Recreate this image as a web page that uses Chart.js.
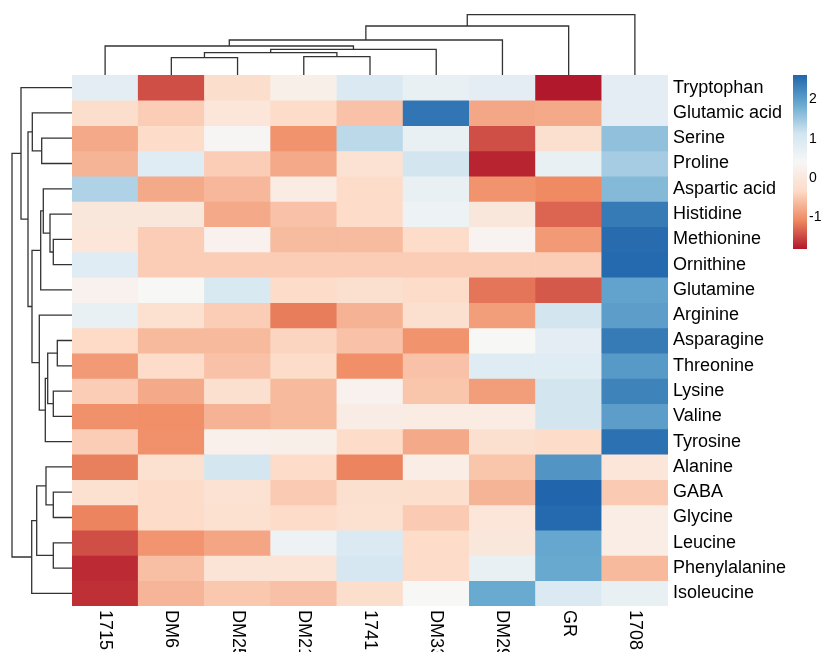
<!DOCTYPE html>
<html>
<head>
<meta charset="utf-8">
<script src="https://cdn.jsdelivr.net/npm/chart.js@4.4.1/dist/chart.umd.min.js"></script>
<style>
  body { margin: 0; background: #fff; }
  #wrap { position: relative; width: 821px; height: 652px; overflow: hidden; }
  #wrap canvas { position: absolute; left: 0; top: 0; }
</style>
</head>
<body>
<div id="wrap">
  <canvas id="heat" width="821" height="652"></canvas>
  <canvas id="topTree" width="821" height="652"></canvas>
  <canvas id="leftTree" width="821" height="652"></canvas>
  <canvas id="scale" width="821" height="652"></canvas>
</div>
<script>
// columns (samples) and rows (metabolites), in clustered order
var samples = ["1715", "DM6", "DM25", "DM21", "1741", "DM33", "DM29", "GR", "1708"];
var metabolites = ["Tryptophan", "Glutamic acid", "Serine", "Proline", "Aspartic acid",
  "Histidine", "Methionine", "Ornithine", "Glutamine", "Arginine", "Asparagine",
  "Threonine", "Lysine", "Valine", "Tyrosine", "Alanine", "GABA", "Glycine",
  "Leucine", "Phenylalanine", "Isoleucine"];

// scaled values, one row per metabolite
var values = [
  [0.80, -1.45, -0.25, 0.20, 0.95, 0.70, 0.80, -1.80, 0.80],
  [-0.25, -0.45, -0.05, -0.30, -0.55, 2.45, -0.80, -0.78, 0.80],
  [-0.78, -0.30, 0.35, -0.98, 1.30, 0.70, -1.45, -0.20, 1.60],
  [-0.68, 0.85, -0.45, -0.78, -0.15, 1.10, -1.72, 0.70, 1.45],
  [1.38, -0.78, -0.65, 0.10, -0.28, 0.70, -0.98, -1.06, 1.68],
  [0.00, 0.00, -0.78, -0.55, -0.28, 0.60, 0.00, -1.30, 2.40],
  [-0.05, -0.45, 0.25, -0.62, -0.62, -0.28, 0.30, -0.92, 2.55],
  [0.85, -0.45, -0.45, -0.45, -0.45, -0.45, -0.45, -0.45, 2.58],
  [0.25, 0.40, 1.00, -0.28, -0.20, -0.30, -1.20, -1.38, 1.95],
  [0.70, -0.18, -0.45, -1.15, -0.70, -0.20, -0.88, 1.10, 2.00],
  [-0.32, -0.63, -0.63, -0.38, -0.55, -0.98, 0.40, 0.80, 2.40],
  [-0.92, -0.30, -0.55, -0.28, -1.02, -0.55, 0.85, 0.85, 2.05],
  [-0.45, -0.78, -0.20, -0.63, 0.25, -0.52, -0.88, 1.10, 2.30],
  [-1.00, -1.02, -0.70, -0.63, 0.12, 0.10, 0.10, 1.10, 2.00],
  [-0.45, -1.00, 0.22, 0.20, -0.28, -0.78, -0.20, -0.28, 2.50],
  [-1.13, -0.18, 1.08, -0.30, -1.10, 0.15, -0.52, 2.10, -0.05],
  [-0.18, -0.28, -0.15, -0.48, -0.20, -0.23, -0.68, 2.62, -0.48],
  [-1.10, -0.30, -0.18, -0.30, -0.18, -0.48, -0.05, 2.58, 0.15],
  [-1.45, -0.97, -0.82, 0.60, 0.98, -0.30, 0.00, 1.90, 0.15],
  [-1.68, -0.58, -0.10, -0.10, 1.05, -0.30, 0.70, 1.88, -0.63],
  [-1.65, -0.67, -0.50, -0.57, -0.25, 0.40, 1.87, 0.95, 0.68]
];

// hclust style merges: negative = leaf (1-based), positive = earlier merge
var colMerge = [[-2, -3], [-4, -5], [1, 2], [3, -6], [-1, 4], [5, -7], [6, -8], [7, -9]];
var colHeight = [17.3, 18.3, 22.3, 25.7, 29, 35, 49, 60.3];
var rowMerge = [[-3, -4], [-2, 1], [-7, -8], [-6, 3], [-5, 4], [5, -9], [-11, -12],
  [-13, -14], [7, 8], [9, -15], [-10, 10], [6, 11], [2, 12], [-1, 13], [-17, -18],
  [-16, 15], [-19, -20], [16, 17], [18, -21], [14, 19]];
var rowHeight = [30.3, 39.7, 18.7, 22, 28.7, 31.3, 14.7, 18.7, 24.3, 26.7, 32.7,
  40, 44, 51, 18.7, 26, 18.7, 35.3, 40.3, 60];

var legendMin = -1.80, legendMax = 2.62;
var legendTicks = [-1, 0, 1, 2];
var palette = ["#B2182B", "#EF8A62", "#FDDBC7", "#F7F7F7", "#D1E5F0", "#67A9CF", "#2166AC"];

Chart.defaults.font.family = '"Liberation Sans", Arial, sans-serif';

function hexToRgb(h) {
  return [parseInt(h.slice(1, 3), 16), parseInt(h.slice(3, 5), 16), parseInt(h.slice(5, 7), 16)];
}
var paletteRgb = palette.map(hexToRgb);

function colorFor(v) {
  var t = (v - legendMin) / (legendMax - legendMin);
  t = Math.max(0, Math.min(1, t)) * (palette.length - 1);
  var i = Math.min(Math.floor(t), palette.length - 2), f = t - i;
  var a = paletteRgb[i], b = paletteRgb[i + 1];
  return 'rgb(' + [0, 1, 2].map(function (k) { return Math.round(a[k] + (b[k] - a[k]) * f); }).join(',') + ')';
}

/* Heatmap: one floating bar per cell */
var heatSets = metabolites.map(function (name, r) {
  return {
    label: name,
    data: values[r].map(function () { return [r, r + 1]; }),
    backgroundColor: values[r].map(colorFor),
    borderWidth: 0,
    categoryPercentage: 1,
    barPercentage: 1,
    grouped: false
  };
});

var labelPlugin = {
  id: 'heatLabels',
  afterDraw: function (chart) {
    var ctx = chart.ctx, xs = chart.scales.x, ys = chart.scales.y, area = chart.chartArea;
    ctx.save();
    ctx.fillStyle = '#000';
    ctx.font = '18px "Liberation Sans", Arial, sans-serif';
    ctx.textAlign = 'left';
    ctx.textBaseline = 'middle';
    metabolites.forEach(function (name, r) {
      ctx.fillText(name, area.right + 5, ys.getPixelForValue(r + 0.5));
    });
    samples.forEach(function (name, c) {
      ctx.save();
      ctx.translate(xs.getPixelForValue(c), area.bottom + 4);
      ctx.rotate(Math.PI / 2);
      ctx.fillText(name, 0, 0);
      ctx.restore();
    });
    ctx.restore();
  }
};

new Chart(document.getElementById('heat'), {
  type: 'bar',
  data: { labels: samples, datasets: heatSets },
  options: {
    responsive: false,
    animation: false,
    layout: { padding: { left: 72, right: 153, top: 75, bottom: 46 } },
    plugins: { legend: { display: false }, tooltip: { enabled: false } },
    scales: {
      x: { display: false },
      y: { display: false, min: 0, max: 21, reverse: true }
    }
  },
  plugins: [labelPlugin]
});

/* Dendrograms */
function dendroLinks(merge, height) {
  var pos = [], links = [];
  function place(id) {
    return id < 0 ? { p: -id - 1, h: 0 } : { p: pos[id - 1], h: height[id - 1] };
  }
  merge.forEach(function (m, i) {
    var a = place(m[0]), b = place(m[1]);
    pos[i] = (a.p + b.p) / 2;
    links.push([[a.p, a.h], [a.p, height[i]], [b.p, height[i]], [b.p, b.h]]);
  });
  return links;
}

function treeSets(links, horizontal) {
  return links.map(function (l) {
    return {
      data: l.map(function (q) { return horizontal ? { x: q[1], y: q[0] } : { x: q[0], y: q[1] }; }),
      showLine: true,
      borderColor: '#333',
      borderWidth: 1.3,
      pointRadius: 0,
      tension: 0,
      fill: false,
      clip: false
    };
  });
}

new Chart(document.getElementById('topTree'), {
  type: 'scatter',
  data: { datasets: treeSets(dendroLinks(colMerge, colHeight), false) },
  options: {
    responsive: false,
    animation: false,
    layout: { padding: { left: 72, right: 153, top: 0, bottom: 577 } },
    plugins: { legend: { display: false }, tooltip: { enabled: false } },
    scales: {
      x: { type: 'linear', display: false, min: -0.5, max: samples.length - 0.5 },
      y: { type: 'linear', display: false, min: 0, max: 75 }
    }
  }
});

new Chart(document.getElementById('leftTree'), {
  type: 'scatter',
  data: { datasets: treeSets(dendroLinks(rowMerge, rowHeight), true) },
  options: {
    responsive: false,
    animation: false,
    layout: { padding: { left: 0, right: 749, top: 75, bottom: 46 } },
    plugins: { legend: { display: false }, tooltip: { enabled: false } },
    scales: {
      x: { type: 'linear', display: false, min: 0, max: 72, reverse: true },
      y: { type: 'linear', display: false, min: -0.5, max: metabolites.length - 0.5, reverse: true }
    }
  }
});

/* Colour key */
function keyGradient(c) {
  var ys = c.chart.scales.y;
  if (!ys) return palette[3];
  var y0 = ys.getPixelForValue(legendMin), y1 = ys.getPixelForValue(legendMax);
  if (!isFinite(y0) || !isFinite(y1) || y0 === y1) return palette[3];
  var g = c.chart.ctx.createLinearGradient(0, y0, 0, y1);
  palette.forEach(function (col, i) { g.addColorStop(i / (palette.length - 1), col); });
  return g;
}

new Chart(document.getElementById('scale'), {
  type: 'bar',
  data: {
    labels: [''],
    datasets: [{
      data: [[legendMin, legendMax]],
      backgroundColor: keyGradient,
      borderWidth: 0,
      categoryPercentage: 1,
      barPercentage: 1
    }]
  },
  options: {
    responsive: false,
    animation: false,
    layout: { padding: { left: 793, right: 0, top: 75, bottom: 403 } },
    plugins: { legend: { display: false }, tooltip: { enabled: false } },
    scales: {
      x: { display: false },
      y: {
        position: 'right',
        min: legendMin,
        max: legendMax,
        grid: { display: false, drawTicks: false },
        border: { display: false },
        ticks: { padding: 2, color: '#000', font: { size: 14 }, autoSkip: false },
        afterFit: function (s) { s.width = 14; },
        afterBuildTicks: function (s) {
          s.ticks = legendTicks.map(function (v) { return { value: v }; });
        }
      }
    }
  }
});
</script>
</body>
</html>
